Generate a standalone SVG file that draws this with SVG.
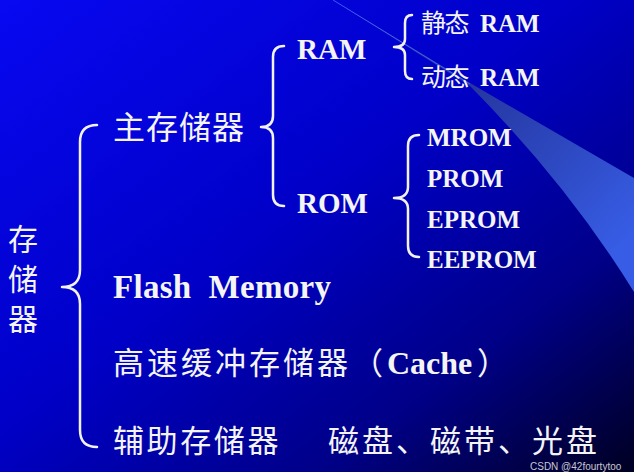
<svg xmlns="http://www.w3.org/2000/svg" width="634" height="472" viewBox="0 0 634 472">
  <defs>
    <linearGradient id="bg" x1="0" y1="0" x2="1" y2="1">
      <stop offset="0" stop-color="#0808f2"/>
      <stop offset="0.45" stop-color="#0000c8"/>
      <stop offset="0.75" stop-color="#000088"/>
      <stop offset="1" stop-color="#000022"/>
    </linearGradient>
    <linearGradient id="wedge" x1="470" y1="84" x2="634" y2="235" gradientUnits="userSpaceOnUse">
      <stop offset="0" stop-color="#2636a0"/>
      <stop offset="0.5" stop-color="#2d48c0"/>
      <stop offset="1" stop-color="#375de6"/>
    </linearGradient>
    <style>
      .br { fill: none; stroke: #f2f2f2; stroke-width: 2.5; stroke-linecap: round; stroke-linejoin: round; }
      .cjk { font-family: "Noto Sans CJK SC", sans-serif; fill: #f4f4f4; }
      .lat { font-family: "Liberation Serif", "Times New Roman", serif; font-weight: bold; fill: #f4f4f4; }
      .wm { font-family: "Liberation Sans", Arial, sans-serif; fill: #c8c8d0; font-size: 10px; }
    </style>
  </defs>

  <rect width="634" height="472" fill="url(#bg)"/>
  <path d="M333,0 L470,83 L634,178 L634,292 Q568,185 470,86 Z" fill="url(#wedge)"/>
  <path d="M333,0 L470,84" stroke="#4a6cff" stroke-width="1" opacity="0.8" fill="none"/>

  <g id="connectors">
    <path class="br" d="M97,125 Q80,125 80,142 L80,270 Q80,287 62,287 Q80,287 80,304 L80,430 Q80,447 97,447"/>
    <path class="br" d="M284,46 Q273,46 273,57 L273,116 Q273,127 261,127 Q273,127 273,138 L273,195 Q273,206 284,206"/>
    <path class="br" d="M412,15 Q405,15 405,23 L405,39 Q405,47 394,47 Q405,47 405,55 L405,71 Q405,79 412,79"/>
    <path class="br" d="M419,135 Q408,135 408,146 L408,187 Q408,198 394,198 Q408,198 408,209 L408,246 Q408,257 419,257"/>
  </g>

  <g id="root">
    <text class="cjk" x="8" y="250" font-size="30">存</text>
    <text class="cjk" x="8" y="290" font-size="30">储</text>
    <text class="cjk" x="8" y="330" font-size="30">器</text>
  </g>

  <g id="main-memory">
    <text class="cjk" x="113" y="139" font-size="32" letter-spacing="1">主存储器</text>
  </g>

  <g id="ram">
    <text class="lat" x="297" y="59" font-size="29">RAM</text>
  </g>
  <g id="rom">
    <text class="lat" x="297" y="213" font-size="29">ROM</text>
  </g>

  <g id="sram">
    <text x="421" y="32"><tspan class="cjk" font-size="25" letter-spacing="-1.5">静态</tspan><tspan class="lat" x="480" font-size="25">RAM</tspan></text>
  </g>
  <g id="dram">
    <text x="421" y="86"><tspan class="cjk" font-size="25" letter-spacing="-1.5">动态</tspan><tspan class="lat" x="480" font-size="25">RAM</tspan></text>
  </g>

  <g id="mrom"><text class="lat" x="427" y="146" font-size="25">MROM</text></g>
  <g id="prom"><text class="lat" x="427" y="187" font-size="25">PROM</text></g>
  <g id="eprom"><text class="lat" x="427" y="228" font-size="25">EPROM</text></g>
  <g id="eeprom"><text class="lat" x="427" y="268" font-size="25">EEPROM</text></g>

  <g id="flash">
    <text class="lat" x="113" y="298" font-size="33" letter-spacing="0.3" xml:space="preserve">Flash  Memory</text>
  </g>

  <g id="cache">
    <text x="113" y="374"><tspan class="cjk" font-size="31" letter-spacing="3">高速缓冲存储器</tspan><tspan class="cjk" x="352" font-size="31">（</tspan><tspan class="lat" x="387" font-size="32">Cache</tspan><tspan class="cjk" x="477" font-size="31">）</tspan></text>
  </g>

  <g id="auxiliary">
    <text x="113" y="452"><tspan class="cjk" font-size="31" letter-spacing="2.6">辅助存储器</tspan><tspan class="cjk" x="328" font-size="31" letter-spacing="3">磁盘、磁带、光盘</tspan></text>
  </g>

  <text class="wm" x="530" y="470">CSDN @42fourtytoo</text>
</svg>
